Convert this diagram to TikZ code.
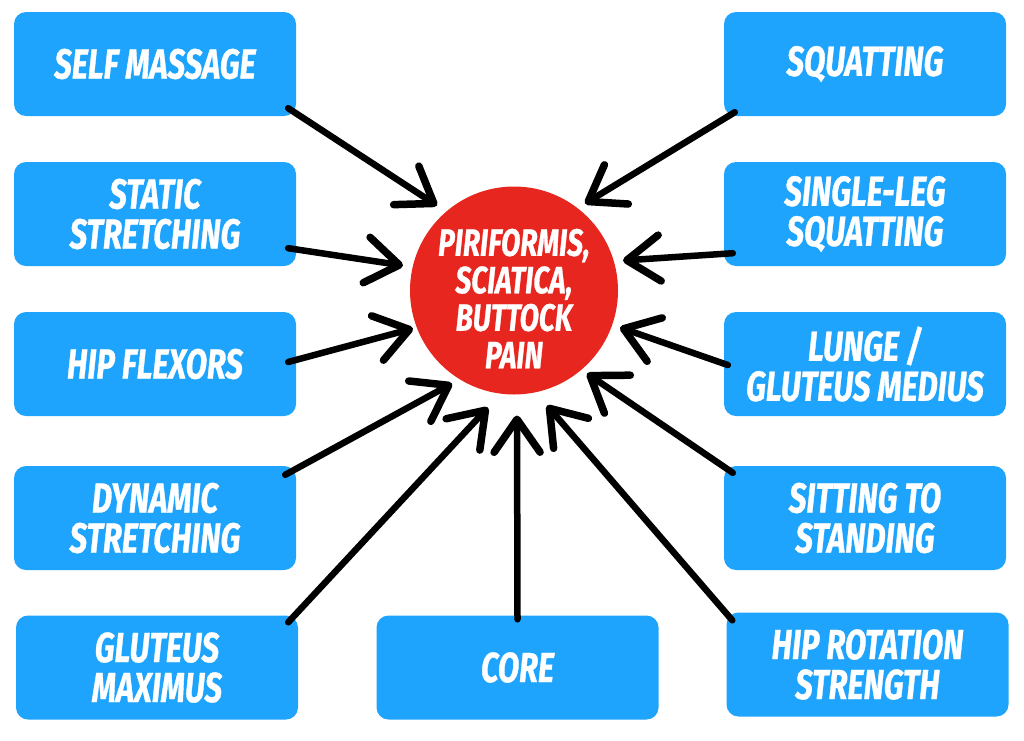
\documentclass[tikz,border=0pt]{standalone}
\usepackage{fontspec}
\newfontfamily\bang{Fira Sans}[FakeStretch=0.74, BoldItalicFeatures={FakeBold=0.8}]
\usetikzlibrary{arrows.meta,calc}
\definecolor{boxblue}{RGB}{30,164,252}
\definecolor{circred}{RGB}{231,38,31}
\begin{document}
\begin{tikzpicture}[x=1pt,y=-1pt,
  box/.style={fill=boxblue, rounded corners=12pt, minimum width=282pt, minimum height=104pt,
    inner sep=0pt, text=white, align=center,
    font=\bang\bfseries\itshape\fontsize{42}{40}\selectfont},
  hub/.style={circle, fill=circred, minimum size=208pt, inner sep=0pt},
  hubtext/.style={text=white, align=center, inner sep=0pt,
    font=\bang\bfseries\itshape\fontsize{38}{37.5}\selectfont},
  conn/.style={line width=6.5pt, line cap=round,
    -{Straight Barb[length=33pt,width=46pt,line width=7.5pt,round]}}]
\useasboundingbox (0,0) rectangle (1024,740);

% boxes
\node[box] (sm) at (155,64)  {SELF MASSAGE};
\node[box] (sq) at (865,64)  {SQUATTING};
\node[box] (st) at (155,214) {STATIC\\STRETCHING};
\node[box] (sl) at (865,214) {SINGLE-LEG\\SQUATTING};
\node[box] (hf) at (155,364) {HIP FLEXORS};
\node[box] (lu) at (865,364) {LUNGE /\\GLUTEUS MEDIUS};
\node[box] (ds) at (155,518) {DYNAMIC\\STRETCHING};
\node[box] (ss) at (865,518) {SITTING TO\\STANDING};
\node[box] (gm) at (157,667.5) {GLUTEUS\\MAXIMUS};
\node[box] (co) at (517.5,667.5) {CORE};
\node[box] (hr) at (867.5,664.5) {HIP ROTATION\\STRENGTH};

% hub
\node[hub] (c) at (514,290.5) {};
\node[hubtext] (ct) at ($(c)+(0,8)$) {PIRIFORMIS,\\SCIATICA,\\BUTTOCK\\PAIN};

% arrow tips around the hub
\coordinate (tsm) at ($(c)+(-77,-85)$);
\coordinate (tsq) at ($(c)+(71,-87)$);
\coordinate (tst) at ($(c)+(-111,-25)$);
\coordinate (tsl) at ($(c)+(109,-30)$);
\coordinate (thf) at ($(c)+(-101,38)$);
\coordinate (tlu) at ($(c)+(106,37)$);
\coordinate (tds) at ($(c)+(-62,93)$);
\coordinate (tss) at ($(c)+(73,83)$);
\coordinate (tgm) at ($(c)+(-26,117)$);
\coordinate (tco) at ($(c)+(3,125)$);
\coordinate (thr) at ($(c)+(33,115)$);

% connectors
\draw[conn] ($(sm.south east)+(-8,-8)$) -- (tsm);
\draw[conn] ($(sq.south west)+(11,-4)$) -- (tsq);
\draw[conn] ($(st.south east)+(-8,-18)$) -- (tst);
\draw[conn] ($(sl.south west)+(9,-13)$) -- (tsl);
\draw[conn] ($(hf.east)+(-8,-2)$) -- (thf);
\draw[conn] ($(lu.west)+(4,1)$) -- (tlu);
\draw[conn] ($(ds.north east)+(-11,9)$) -- (tds);
\draw[conn] ($(ss.north west)+(9,7)$) -- (tss);
\draw[conn] ($(gm.north east)+(-10,7)$) -- (tgm);
\draw[conn] ($(co.north)+(0,4)$) -- (tco);
\draw[conn] ($(hr.north west)+(6,8)$) -- (thr);
\end{tikzpicture}
\end{document}
